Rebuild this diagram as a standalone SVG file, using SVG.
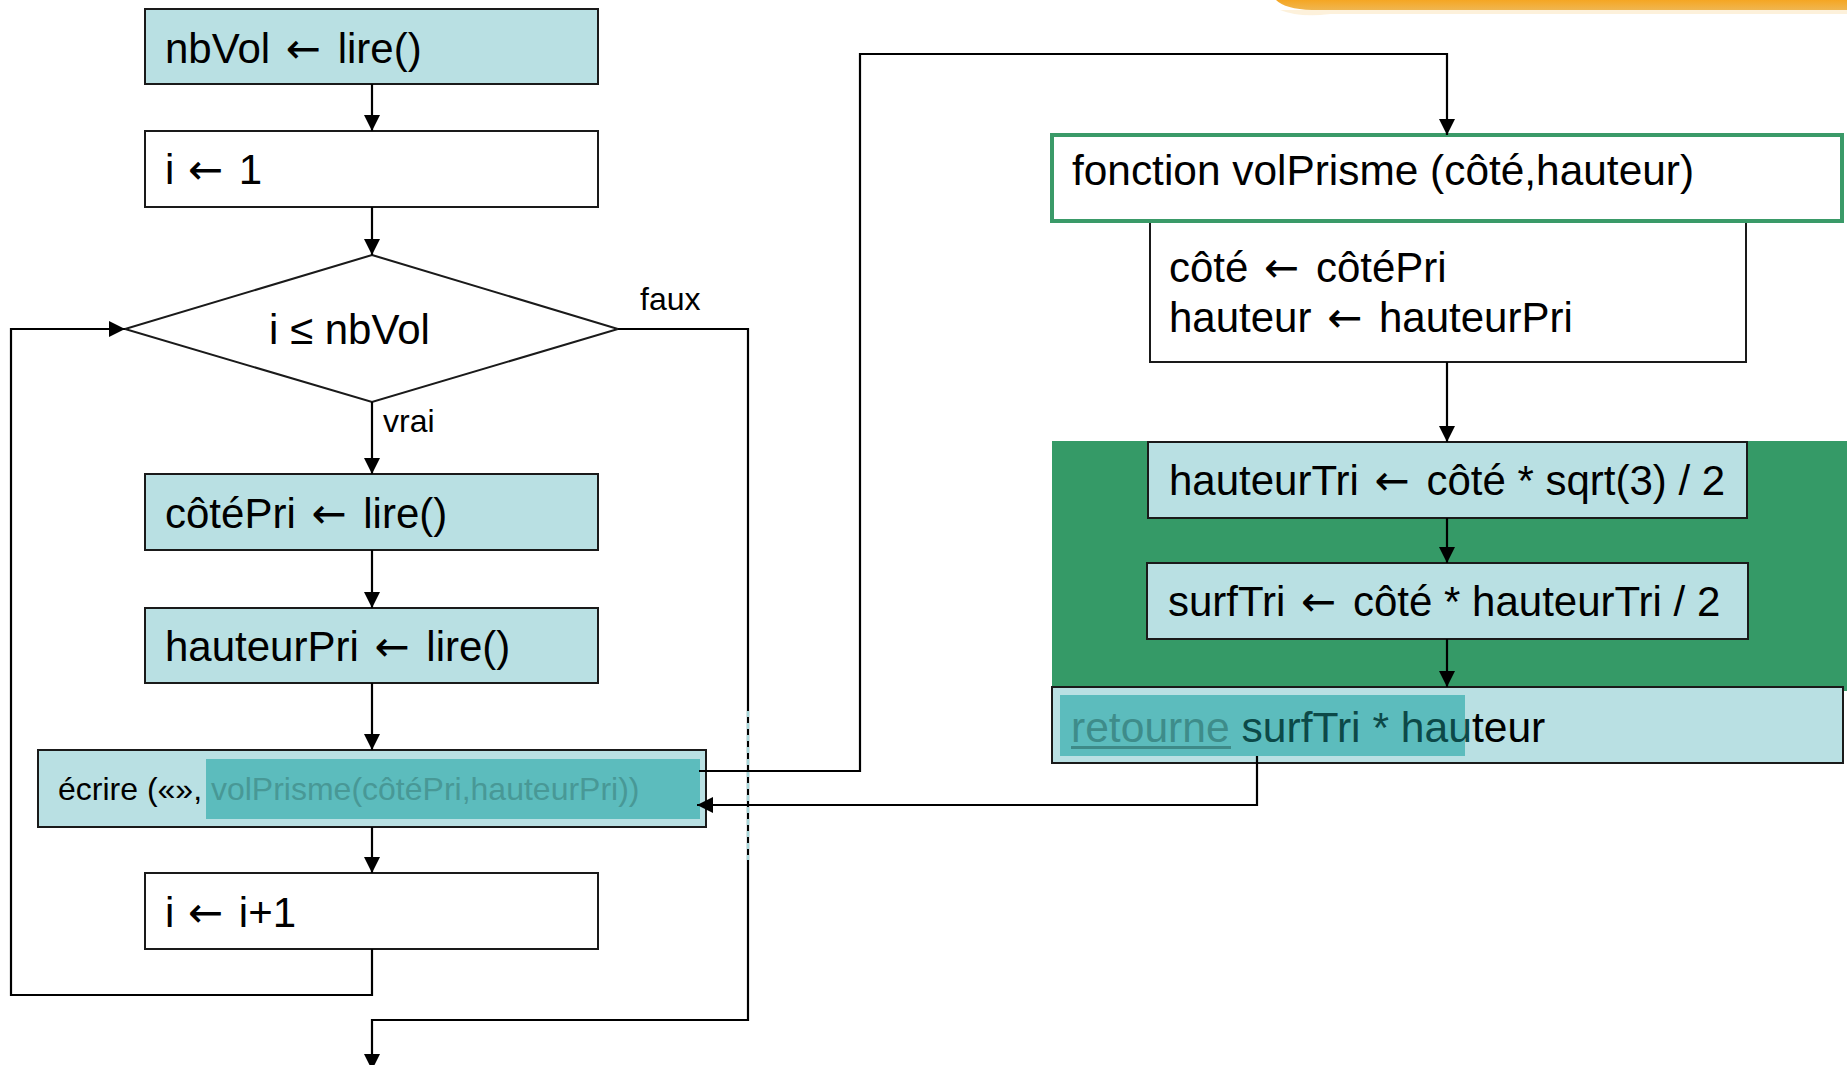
<svg xmlns="http://www.w3.org/2000/svg" width="1847" height="1065" viewBox="0 0 1847 1065">
<defs>
<marker id="ah" markerUnits="userSpaceOnUse" markerWidth="16" markerHeight="16" refX="16" refY="8" orient="auto">
<path d="M0,0 L16,8 L0,16 z" fill="#000"/>
</marker>
<linearGradient id="org" x1="0" y1="0" x2="0" y2="1">
<stop offset="0" stop-color="#F5A623"/>
<stop offset="1" stop-color="#F0B650"/>
</linearGradient>
<style>
text{font-family:"Liberation Sans",Arial,sans-serif;fill:#000}
tspan.a{font-family:"DejaVu Sans",sans-serif}
.t{font-size:42px}
.s{font-size:32px}
.box{stroke:#1a1a1a;stroke-width:2}
.cy{fill:#B9E0E3}
.wh{fill:#fff}
.hl{fill:#5CBCBD}
.ln{fill:none;stroke:#000;stroke-width:2.2}
.ar{marker-end:url(#ah)}
</style>
</defs>
<rect width="1847" height="1065" fill="#fff"/>
<path d="M1276,0 Q1285,9 1312,10 L1847,10 L1847,0 z" fill="url(#org)"/>
<path d="M1280,10 Q1300,18 1330,14 L1847,14 L1847,10 L1312,10 z" fill="#FBE3B8" opacity="0.5"/>

<g id="nbvol"><rect class="box cy" x="145" y="9" width="453" height="75"/><text class="t" x="165" y="63">nbVol <tspan class="a" dx="4">←</tspan><tspan dx="5"> lire()</tspan></text></g>
<g id="i1"><rect class="box wh" x="145" y="131" width="453" height="76"/><text class="t" x="165" y="184">i <tspan class="a" dx="2">←</tspan><tspan dx="4"> 1</tspan></text></g>
<g id="cond"><polygon class="box wh" points="372,255 618,329 372,402 125,329"/><text class="t" x="269" y="344">i ≤ nbVol</text></g>
<g id="cotepri"><rect class="box cy" x="145" y="474" width="453" height="76"/><text class="t" x="165" y="528">côtéPri <tspan class="a" dx="4">←</tspan><tspan dx="5"> lire()</tspan></text></g>
<g id="hauteurpri"><rect class="box cy" x="145" y="608" width="453" height="75"/><text class="t" x="165" y="661">hauteurPri <tspan class="a" dx="4">←</tspan><tspan dx="5"> lire()</tspan></text></g>
<g id="ecrire"><rect class="box cy" x="38" y="750" width="668" height="77"/><rect class="hl" x="206" y="759" width="494" height="60"/><text class="s" x="58" y="800">écrire («», <tspan fill="#489896">volPrisme(côtéPri,hauteurPri))</tspan></text></g>
<g id="incr"><rect class="box wh" x="145" y="873" width="453" height="76"/><text class="t" x="165" y="927">i <tspan class="a" dx="2">←</tspan><tspan dx="4"> i+1</tspan></text></g>

<g id="fbg"><rect x="1052" y="441" width="795" height="250" fill="#359A67"/></g>
<g id="fonction"><rect x="1052" y="135" width="790" height="86" fill="#fff" stroke="#3A9A68" stroke-width="4"/><text class="t" x="1072" y="185" style="font-size:42.4px">fonction volPrisme (côté,hauteur)</text></g>
<g id="params"><path class="box wh" d="M1150,223 L1150,362 L1746,362 L1746,223"/><text class="t" x="1169" y="282">côté <tspan class="a" dx="4">←</tspan><tspan dx="5"> côtéPri</tspan></text><text class="t" x="1169" y="332">hauteur <tspan class="a" dx="4">←</tspan><tspan dx="5"> hauteurPri</tspan></text></g>
<g id="hauteurtri"><rect class="box cy" x="1148" y="442" width="599" height="76"/><text class="t" x="1169" y="495">hauteurTri <tspan class="a" dx="4">←</tspan><tspan dx="5"> côté * sqrt(3) / 2</tspan></text></g>
<g id="surftri"><rect class="box cy" x="1147" y="563" width="601" height="76"/><text class="t" x="1168" y="616">surfTri <tspan class="a" dx="4">←</tspan><tspan dx="5"> côté * hauteurTri / 2</tspan></text></g>
<g id="retourne"><rect class="box cy" x="1052" y="687" width="791" height="76"/><rect class="hl" x="1060" y="695" width="405" height="61"/><text class="t" x="1071" y="742" style="font-size:42.6px"><tspan fill="#3E8C8A">retourne</tspan> <tspan fill="#0C4948">surfTri * hau</tspan>teur</text><rect x="1071" y="746" width="160" height="3" fill="#3E8A88"/></g>

<g id="connectors">
<line class="ln ar" x1="372" y1="84" x2="372" y2="131"/>
<line class="ln ar" x1="372" y1="207" x2="372" y2="255"/>
<line class="ln ar" x1="372" y1="402" x2="372" y2="474"/>
<line class="ln ar" x1="372" y1="550" x2="372" y2="608"/>
<line class="ln ar" x1="372" y1="683" x2="372" y2="750"/>
<line class="ln ar" x1="372" y1="827" x2="372" y2="873"/>
<polyline class="ln ar" points="372,949 372,995 11,995 11,329 125,329"/>
<polyline class="ln ar" points="618,329 748,329 748,1020 372,1020 372,1070"/>
<line x1="748" y1="705" x2="748" y2="860" stroke="#A8D6D9" stroke-width="2.4" stroke-dasharray="6 6" stroke-dashoffset="6"/>
<polyline class="ln ar" points="699,771 860,771 860,54 1447,54 1447,135"/>
<polyline class="ln ar" points="1257,756 1257,805 697,805"/>
<line class="ln ar" x1="1447" y1="362" x2="1447" y2="442"/>
<line class="ln ar" x1="1447" y1="518" x2="1447" y2="563"/>
<line class="ln ar" x1="1447" y1="639" x2="1447" y2="687"/>
<text class="s" x="640" y="310">faux</text>
<text class="s" x="383" y="432">vrai</text>
</g>
</svg>
